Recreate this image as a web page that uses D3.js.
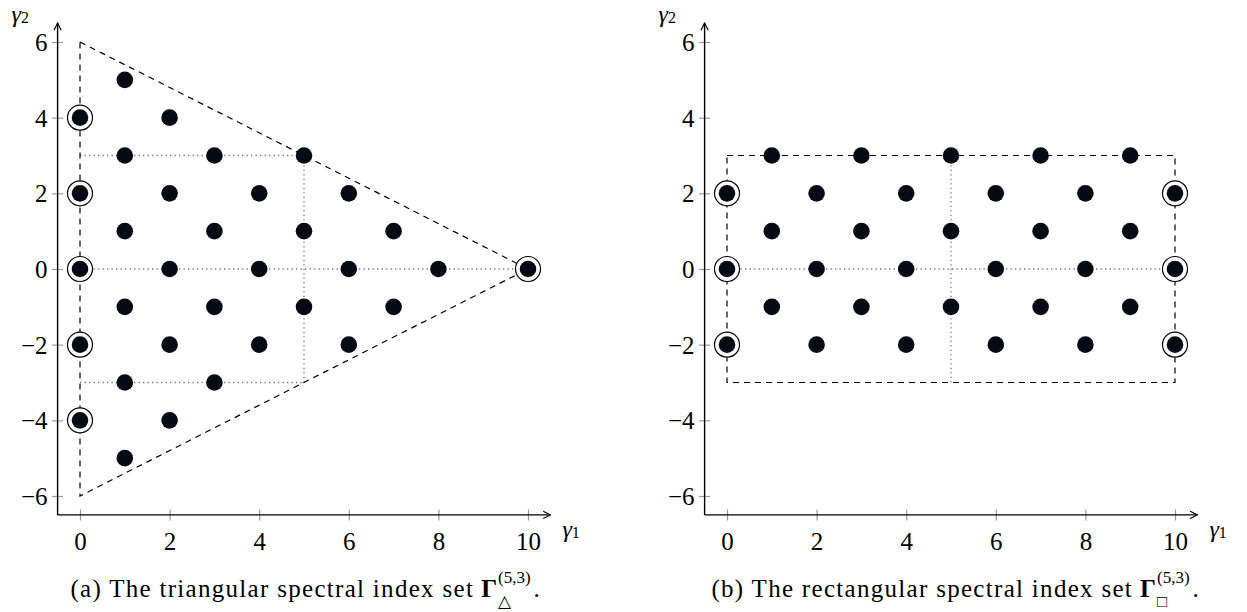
<!DOCTYPE html>
<html>
<head>
<meta charset="utf-8">
<script src="https://cdn.jsdelivr.net/npm/d3@7"></script>
<style>
  body { margin: 0; background: #fff; }
  svg { display: block; }
  svg text { font-family: "Liberation Serif", "DejaVu Serif", serif !important; fill: #000; }
</style>
</head>
<body>
<svg id="chart" width="1247" height="612"></svg>
<script>
// ---- data ----
const xTicks = [0, 2, 4, 6, 8, 10];
const yTicks = [-6, -4, -2, 0, 2, 4, 6];

// triangular set
const triPoints = [
  [1, 5], [2, 4], [1, 3], [3, 3], [5, 3], [2, 2], [4, 2], [6, 2],
  [1, 1], [3, 1], [5, 1], [7, 1], [0, 0], [2, 0], [4, 0], [6, 0], [8, 0], [10, 0],
  [1, -1], [3, -1], [5, -1], [7, -1], [2, -2], [4, -2], [6, -2],
  [1, -3], [3, -3], [2, -4], [1, -5],
  [0, 4], [0, 2], [0, -2], [0, -4]
];
const triCircled = [[0, 4], [0, 2], [0, 0], [0, -2], [0, -4], [10, 0]];
const triDashed = [[0, 6], [10, 0], [0, -6], [0, 6]];
const triDotted = [
  [[0, 3], [5, 3]], [[0, 0], [10, 0]], [[0, -3], [5, -3]], [[5, -3], [5, 3]]
];

// rectangular set
const rectPoints = [
  [1, 3], [3, 3], [5, 3], [7, 3], [9, 3],
  [0, 2], [2, 2], [4, 2], [6, 2], [8, 2], [10, 2],
  [1, 1], [3, 1], [5, 1], [7, 1], [9, 1],
  [0, 0], [2, 0], [4, 0], [6, 0], [8, 0], [10, 0],
  [1, -1], [3, -1], [5, -1], [7, -1], [9, -1],
  [0, -2], [2, -2], [4, -2], [6, -2], [8, -2], [10, -2]
];
const rectCircled = [[0, 2], [0, 0], [0, -2], [10, 2], [10, 0], [10, -2]];
const rectDashed = [[0, 3], [10, 3], [10, -3], [0, -3], [0, 3]];
const rectDotted = [[[0, 0], [10, 0]], [[5, -3], [5, 3]]];

const panels = [
  { x0: 80, capX: 305, label: "(a) The triangular spectral index set", sub: "\u25B3",
    points: triPoints, circled: triCircled, dashed: triDashed, dotted: triDotted },
  { x0: 727, capX: 955, label: "(b) The rectangular spectral index set", sub: "\u25A1",
    points: rectPoints, circled: rectCircled, dashed: rectDashed, dotted: rectDotted }
];

const svg = d3.select("#chart");

svg.append("defs").append("marker")
  .attr("id", "arrow")
  .attr("viewBox", "0 0 10 10")
  .attr("refX", 9).attr("refY", 5)
  .attr("markerWidth", 9).attr("markerHeight", 9)
  .attr("markerUnits", "userSpaceOnUse")
  .attr("orient", "auto")
  .append("path")
  .attr("d", "M1,1 L9,5 L1,9")
  .attr("fill", "none").attr("stroke", "#000").attr("stroke-width", 1.3);

panels.forEach((p) => {
  const x = d3.scaleLinear().domain([0, 10]).range([p.x0, p.x0 + 448]);
  const y = d3.scaleLinear().domain([-6, 6]).range([496, 42]);
  const g = svg.append("g");
  const line = d3.line().x((d) => x(d[0])).y((d) => y(d[1]));

  // axes with gray crossing ticks
  const ax = g.append("g")
    .attr("transform", `translate(0,${y(-6.5)})`)
    .call(d3.axisBottom(x).tickValues(xTicks).tickSize(5).tickPadding(12)
      .tickFormat((d) => d3.format("d")(d)));
  const ay = g.append("g")
    .attr("transform", `translate(${x(-0.5)},0)`)
    .call(d3.axisLeft(y).tickValues(yTicks).tickSize(5).tickPadding(5)
      .tickFormat((d) => (d < 0 ? "\u2212" + Math.abs(d) : d)));
  [ax, ay].forEach((a) => {
    a.select(".domain").remove();
    a.attr("font-family", null).attr("font-size", null);
    a.selectAll("text").style("font-size", "25px");
  });
  ax.selectAll(".tick line").attr("y1", -5.5).attr("y2", 5.5).attr("stroke", "#999").attr("stroke-width", 1.2);
  ay.selectAll(".tick line").attr("x1", -5.5).attr("x2", 5.5).attr("stroke", "#999").attr("stroke-width", 1.2);
  ax.selectAll(".tick text").attr("dy", "0.71em");
  ay.selectAll(".tick text").attr("dy", "0.34em");

  g.append("line")
    .attr("x1", x(-0.5)).attr("y1", y(-6.5)).attr("x2", x(10.5)).attr("y2", y(-6.5))
    .attr("stroke", "#000").attr("stroke-width", 1.4).attr("marker-end", "url(#arrow)");
  g.append("line")
    .attr("x1", x(-0.5)).attr("y1", y(-6.5)).attr("x2", x(-0.5)).attr("y2", y(6.5))
    .attr("stroke", "#000").attr("stroke-width", 1.4).attr("marker-end", "url(#arrow)");

  // axis labels
  const gl = g.append("text").attr("x", x(-0.5) - 46).attr("y", 22)
    .style("font-size", "24px").style("font-style", "italic");
  gl.append("tspan").text("\u03B3");
  gl.append("tspan").style("font-size", "16px").style("font-style", "normal").attr("dy", 1).text("2");
  const xl = g.append("text").attr("x", x(10.5) + 12).attr("y", y(-6.5) + 22)
    .style("font-size", "24px").style("font-style", "italic");
  xl.append("tspan").text("\u03B3");
  xl.append("tspan").style("font-size", "16px").style("font-style", "normal").attr("dy", 1).text("1");

  // dotted guide lines
  g.append("g").selectAll("path").data(p.dotted).join("path")
    .attr("d", line).attr("fill", "none").attr("stroke", "#777")
    .attr("stroke-width", 1.3).attr("stroke-dasharray", "1.3,3.2");

  // dashed outline
  g.append("path").datum(p.dashed).attr("d", line).attr("fill", "none")
    .attr("stroke", "#000").attr("stroke-width", 1.2).attr("stroke-dasharray", "6,5");

  // rings
  g.append("g").selectAll("circle").data(p.circled).join("circle")
    .attr("cx", (d) => x(d[0])).attr("cy", (d) => y(d[1])).attr("r", 12.5)
    .attr("fill", "#fff").attr("stroke", "#000").attr("stroke-width", 1.2);

  // points
  g.append("g").selectAll("circle").data(p.points).join("circle")
    .attr("cx", (d) => x(d[0])).attr("cy", (d) => y(d[1])).attr("r", 8.3)
    .attr("fill", "#050a14");

  // caption: main text, then bold Gamma with stacked sup/sub scripts
  const cap = g.append("g");
  const main = cap.append("text").attr("x", 0).attr("y", 597)
    .style("font-size", "25px").style("letter-spacing", "1.3px").text(p.label);
  const w1 = main.node().getComputedTextLength() + 7;
  const gam = cap.append("text").attr("x", w1).attr("y", 597)
    .style("font-size", "25px").style("font-weight", "bold").text("\u0393");
  const w2 = gam.node().getComputedTextLength();
  const sup = cap.append("text").attr("x", w1 + w2 + 1).attr("y", 583)
    .style("font-size", "17px").text("(5,3)");
  const w3 = sup.node().getComputedTextLength();
  cap.append("text").attr("x", w1 + w2 + 1).attr("y", 607)
    .style("font-size", "17px").text(p.sub);
  cap.append("text").attr("x", w1 + w2 + w3 + 4).attr("y", 597)
    .style("font-size", "25px").text(".");
  const total = w1 + w2 + w3 + 10;
  cap.attr("transform", `translate(${p.capX - total / 2},0)`);
});
</script>
</body>
</html>
